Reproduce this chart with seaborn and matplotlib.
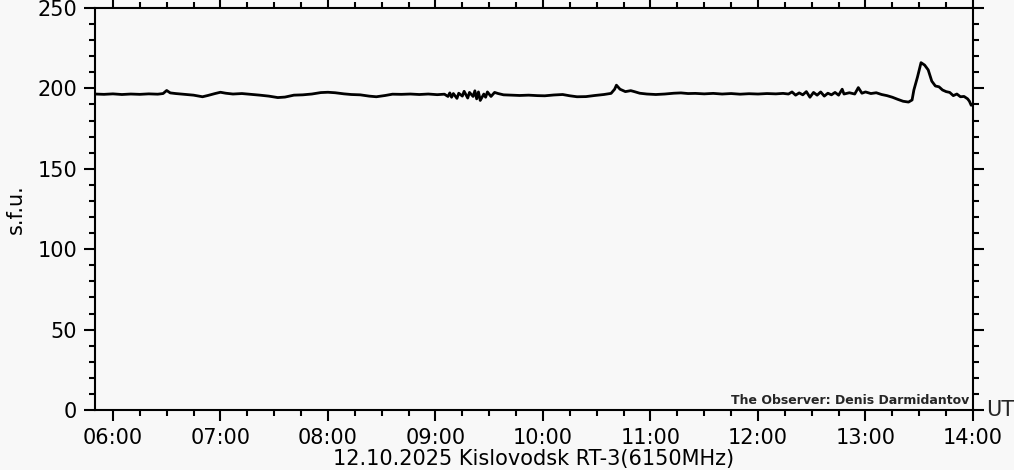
import pandas as pd
import matplotlib
matplotlib.use('Agg')
from matplotlib import pyplot as plt
from matplotlib.ticker import MultipleLocator, FuncFormatter
import seaborn as sns

sns.set_theme(style='ticks')
plt.rcParams['font.family'] = ['DejaVu Sans']

# RT-3 6150 MHz flux (UT time, s.f.u.)
times = [
    '05:50', '05:55', '06:00', '06:05', '06:10', '06:15', '06:20', '06:25', '06:28', '06:30',
    '06:32', '06:35', '06:40', '06:45', '06:50', '06:53', '06:57', '07:00', '07:03', '07:07',
    '07:12', '07:17', '07:22', '07:27', '07:32', '07:36', '07:41', '07:46', '07:51', '07:56',
    '08:00', '08:04', '08:09', '08:13', '08:18', '08:23', '08:27', '08:32', '08:36', '08:41',
    '08:46', '08:51', '08:56', '09:01', '09:05', '09:07', '09:08', '09:09', '09:10', '09:12',
    '09:13', '09:15', '09:16', '09:18', '09:19', '09:21', '09:22', '09:23', '09:24', '09:25',
    '09:27', '09:28', '09:29', '09:31', '09:33', '09:35', '09:38', '09:42', '09:47', '09:52',
    '09:57', '10:01', '10:06', '10:11', '10:15', '10:19', '10:24', '10:29', '10:34', '10:38',
    '10:40', '10:41', '10:43', '10:46', '10:49', '10:51', '10:54', '10:58', '11:03', '11:08',
    '11:13', '11:17', '11:21', '11:25', '11:30', '11:35', '11:40', '11:45', '11:50', '11:55',
    '12:00', '12:05', '12:10', '12:14', '12:17', '12:19', '12:21', '12:23', '12:25', '12:27',
    '12:29', '12:31', '12:33', '12:35', '12:37', '12:39', '12:41', '12:43', '12:45', '12:47',
    '12:48', '12:51', '12:54', '12:56', '12:58', '13:00', '13:03', '13:06', '13:09', '13:12',
    '13:15', '13:18', '13:21', '13:24', '13:26', '13:27', '13:29', '13:31', '13:33', '13:35',
    '13:37', '13:39', '13:41', '13:43', '13:45', '13:47', '13:49', '13:51', '13:53', '13:55',
    '13:57', '13:58', '13:59', '14:00',
]
flux = [
    196.5, 196.3, 196.6, 196.2, 196.5, 196.3, 196.6, 196.4, 196.8, 198.7,
    197.2, 196.8, 196.3, 195.8, 194.8, 195.6, 196.8, 197.6, 197.0, 196.5,
    196.8, 196.3, 195.8, 195.2, 194.3, 194.6, 195.8, 196.0, 196.5, 197.4,
    197.6, 197.3, 196.6, 196.2, 196.0, 195.2, 194.8, 195.6, 196.4, 196.3,
    196.5, 196.2, 196.5, 196.1, 196.4, 195.0, 197.2, 194.5, 196.8, 193.8,
    197.0, 195.2, 198.2, 194.0, 197.5, 195.0, 198.5, 193.5, 197.8, 192.5,
    196.5, 194.5, 197.8, 195.0, 197.5, 196.8, 196.0, 195.8, 195.6, 195.8,
    195.5, 195.4, 195.9, 196.2, 195.4, 194.8, 194.9, 195.6, 196.2, 196.9,
    199.5, 202.0, 199.5, 198.0, 198.6, 198.0, 197.0, 196.5, 196.2, 196.5,
    197.0, 197.2, 196.8, 196.9, 196.6, 196.9, 196.5, 196.8, 196.4, 196.7,
    196.5, 196.8, 196.6, 196.9, 196.5, 197.8, 195.8, 197.2, 196.0, 198.0,
    194.5, 197.5, 195.8, 197.8, 195.2, 197.0, 196.0, 197.5, 195.8, 199.5,
    196.5, 197.3, 196.5, 200.5, 197.0, 197.8, 196.8, 197.3, 196.2, 195.5,
    194.5, 193.2, 192.0, 191.5, 192.8, 199.0, 207.0, 216.0, 214.5, 211.5,
    204.5, 201.5, 201.0, 199.0, 198.0, 197.5, 195.5, 196.5, 194.8, 195.0,
    193.5, 192.0, 189.5, 190.0,
]

hour_ticks = [6, 7, 8, 9, 10, 11, 12, 13, 14]
hour_labels = ['06:00', '07:00', '08:00', '09:00', '10:00', '11:00', '12:00', '13:00', '14:00']

df = pd.DataFrame({'time': times, 'flux': flux})
tt = pd.to_datetime(df['time'], format='%H:%M')
df['hour'] = tt.dt.hour + tt.dt.minute / 60.

bg = '#f8f8f8'
fig = plt.figure(figsize=(10.14, 4.70), dpi=100, facecolor=bg)
ax = fig.add_axes([95 / 1014, 60 / 470, 878 / 1014, 402 / 470])
ax.set_facecolor(bg)

sns.lineplot(data=df, x='hour', y='flux', ax=ax, color='black', lw=2.0,
             estimator=None, sort=False)

ax.set_xlim(5 + 50 / 60., 14)
ax.set_ylim(0, 250)
ax.set_xticks(hour_ticks)
ax.set_xticklabels(hour_labels)
ax.xaxis.set_minor_locator(MultipleLocator(0.25))
ax.yaxis.set_major_locator(MultipleLocator(50))
ax.yaxis.set_minor_locator(MultipleLocator(10))
ax.yaxis.set_major_formatter(FuncFormatter(lambda v, p: '%d' % v))

for s in ax.spines.values():
    s.set_linewidth(1.5)
    s.set_color('black')
    s.set_visible(True)

ax.tick_params(which='both', direction='out', color='black', width=1.5,
               top=True, right=True, labelsize=15, labelcolor='black')
ax.tick_params(which='major', length=8, pad=5)
ax.tick_params(which='minor', length=4)

ax.set_xlabel('12.10.2025 Kislovodsk RT-3(6150MHz)', fontsize=15, labelpad=1, color='black')
ax.set_ylabel('s.f.u.', fontsize=15, labelpad=8, color='black')
ax.text(1.015, 0, 'UT', transform=ax.transAxes, fontsize=15, va='center', ha='left')
ax.text(0.996, 0.008, 'The Observer: Denis Darmidantov', transform=ax.transAxes,
        fontsize=9, fontweight='bold', ha='right', va='bottom')
ax.grid(False)

fig.savefig('out.png', dpi=100, facecolor=bg)
